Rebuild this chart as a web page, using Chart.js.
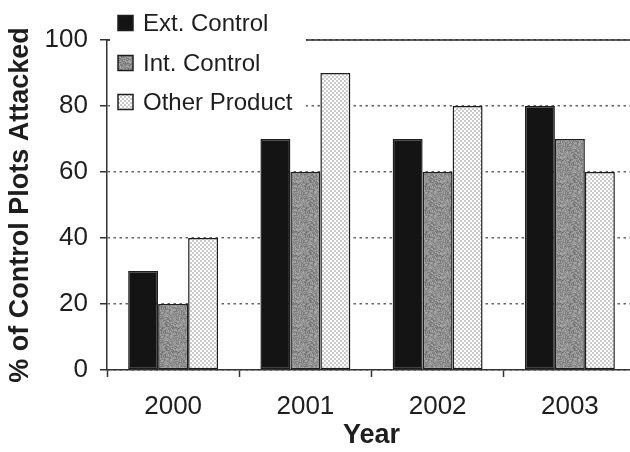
<!DOCTYPE html>
<html>
<head>
<meta charset="utf-8">
<script src="https://cdn.jsdelivr.net/npm/chart.js@4/dist/chart.umd.min.js"></script>
<style>
  html, body { margin: 0; padding: 0; background: #fff; overflow: hidden; }
  #wrap { width: 636px; height: 452px; }
</style>
</head>
<body>
<div id="wrap"><canvas id="c" width="636" height="452"></canvas></div>
<script>
// Survey data: share of control plots attacked per year
const years = ['2000', '2001', '2002', '2003'];
const extControl = [30, 70, 70, 80];
const intControl = [20, 60, 60, 70];
const otherProduct = [40, 90, 80, 60];
const seriesNames = ['Ext. Control', 'Int. Control', 'Other Product'];
const yAxisTitle = '% of Control Plots Attacked';
const xAxisTitle = 'Year';

const FONT = 'Arial, "Liberation Sans", sans-serif';
const INK = '#1e1e1e';

// Grey speckled texture (deterministic noise)
function makeSpeckle() {
  const s = 24, cv = document.createElement('canvas');
  cv.width = s; cv.height = s;
  const g = cv.getContext('2d');
  const img = g.createImageData(s, s);
  let seed = 12345;
  const next = () => { seed = (seed * 1103515245 + 12345) & 0x7fffffff; return seed / 0x7fffffff; };
  for (let i = 0; i < s * s; i++) {
    const v = Math.round(112 + next() * 62);
    img.data[i * 4] = v; img.data[i * 4 + 1] = v; img.data[i * 4 + 2] = v; img.data[i * 4 + 3] = 255;
  }
  g.putImageData(img, 0, 0);
  return g.createPattern(cv, 'repeat');
}

// Light stippled texture (staggered dots)
function makeDots() {
  const s = 4, cv = document.createElement('canvas');
  cv.width = s; cv.height = s;
  const g = cv.getContext('2d');
  g.fillStyle = '#ffffff';
  g.fillRect(0, 0, s, s);
  g.fillStyle = '#7a7a7a';
  g.beginPath(); g.arc(1, 1, 0.75, 0, Math.PI * 2); g.fill();
  g.beginPath(); g.arc(3, 3, 0.75, 0, Math.PI * 2); g.fill();
  return g.createPattern(cv, 'repeat');
}

const fills = ['#141414', makeSpeckle(), makeDots()];

// Top frame line and the inset legend panel
const insetLegend = {
  id: 'insetLegend',
  afterDraw(chart) {
    const { ctx, chartArea } = chart;
    const y = chart.scales.y;
    ctx.save();
    const yTop = y.getPixelForValue(100);
    ctx.strokeStyle = '#2a2a2a';
    ctx.lineWidth = 1.5;
    ctx.beginPath();
    ctx.moveTo(chartArea.left, yTop);
    ctx.lineTo(chartArea.right, yTop);
    ctx.stroke();

    ctx.fillStyle = '#fff';
    ctx.fillRect(chartArea.left + 3, 0, 196, 120);

    const centers = [23, 63, 102];
    ctx.font = '24px ' + FONT;
    ctx.textBaseline = 'middle';
    ctx.textAlign = 'left';
    seriesNames.forEach((name, i) => {
      const cy = centers[i];
      ctx.fillStyle = fills[i];
      ctx.fillRect(118, cy - 7.5, 15, 15);
      ctx.strokeStyle = INK;
      ctx.lineWidth = 1.5;
      ctx.strokeRect(118, cy - 7.5, 15, 15);
      ctx.fillStyle = INK;
      ctx.fillText(name, 143, cy + 1);
    });
    ctx.restore();
  }
};

new Chart(document.getElementById('c'), {
  type: 'bar',
  data: {
    labels: years,
    datasets: [
      { label: seriesNames[0], data: extControl, backgroundColor: fills[0] },
      { label: seriesNames[1], data: intControl, backgroundColor: fills[1] },
      { label: seriesNames[2], data: otherProduct, backgroundColor: fills[2] }
    ].map(d => Object.assign(d, {
      borderColor: INK, borderWidth: 1.5, borderSkipped: false,
      categoryPercentage: 0.68, barPercentage: 1.0
    }))
  },
  options: {
    responsive: false,
    animation: false,
    devicePixelRatio: 1,
    layout: { padding: { top: 40, right: 0, left: 0, bottom: 0 } },
    plugins: { legend: { display: false }, tooltip: { enabled: false } },
    scales: {
      x: {
        grid: { drawOnChartArea: false, tickLength: 7, tickColor: '#333', tickWidth: 1.5, offset: true },
        border: { color: '#333', width: 1.5 },
        ticks: { color: INK, font: { family: FONT, size: 26 }, padding: 14, maxRotation: 0 },
        title: { display: true, text: xAxisTitle, color: INK, font: { family: FONT, size: 27, weight: 'bold' }, padding: { top: 0, bottom: 0 } },
        afterFit(scale) { scale.height = 82; }
      },
      y: {
        min: 0, max: 100,
        ticks: { stepSize: 20, color: INK, font: { family: FONT, size: 26 }, padding: 12 },
        grid: { color: '#666', lineWidth: 1.5, tickLength: 7, tickColor: '#333', tickWidth: 1.5 },
        border: { color: '#333', width: 1.5, dash: [2.5, 3.5] },
        title: { display: true, text: yAxisTitle, color: INK, font: { family: FONT, size: 27, weight: 'bold' }, padding: { top: 4, bottom: 0 } },
        afterFit(scale) { scale.width = 107; }
      }
    }
  },
  plugins: [insetLegend]
});
</script>
</body>
</html>
